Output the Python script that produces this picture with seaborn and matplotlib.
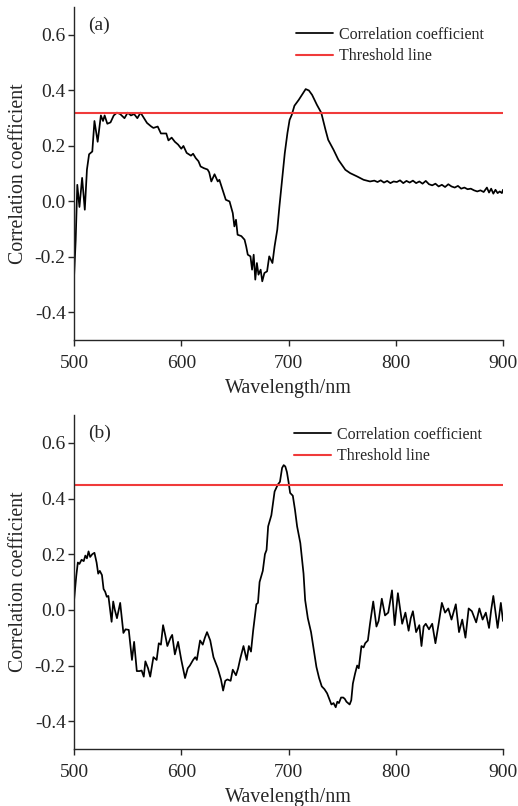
import matplotlib
matplotlib.use("Agg")
import matplotlib.pyplot as plt
import seaborn as sns
import pandas as pd

# ---------------- data ----------------
wl_a = [500, 501.5, 503, 505, 507.5, 510, 512, 514, 517, 519,
        522, 525, 527, 528.5, 531, 534, 537, 540, 543, 547,
        550, 553, 556, 559, 562, 566, 568, 572, 574, 578,
        581, 586, 588, 591, 594, 597, 600, 602, 605, 609, 611, 613.5, 616, 618,
        621, 624.5, 626, 628, 631, 634, 635.5, 638.5, 641.5, 645,
        648, 649.5, 651, 652.5, 656, 659, 660.5, 662, 664.5, 666,
        667.5, 669, 670.5, 672, 674, 675.5, 677.5, 680, 682, 685,
        687, 689.5, 691.5, 694, 696.5, 699, 701, 703, 705.5, 709.5,
        712.5, 716, 719, 722, 726.5, 730.5, 734.5, 737, 742, 746.5,
        753, 757.5, 764, 770, 776, 780, 783, 786, 789, 792,
        795, 798, 801, 804, 807, 810, 813, 816, 819, 822,
        825, 828, 831, 834, 837, 840, 843, 846, 849, 852,
        855, 858, 861, 864, 867, 870, 873, 876, 879, 882,
        885, 887, 889, 891, 893, 895, 897, 899, 900]
r_a = [-0.27, -0.14, 0.06, -0.02, 0.085, -0.03, 0.115, 0.17, 0.18, 0.29,
       0.215, 0.31, 0.29, 0.31, 0.28, 0.285, 0.31, 0.32, 0.315, 0.30,
       0.32, 0.31, 0.315, 0.30, 0.32, 0.295, 0.283, 0.27, 0.265, 0.27,
       0.245, 0.245, 0.22, 0.23, 0.215, 0.205, 0.19, 0.20, 0.175, 0.165, 0.172, 0.156, 0.145, 0.126,
       0.12, 0.115, 0.105, 0.072, 0.098, 0.072, 0.078, 0.042, 0.006, 0.0,
       -0.042, -0.09, -0.066, -0.12, -0.125, -0.138, -0.162, -0.192, -0.198, -0.246,
       -0.192, -0.282, -0.222, -0.264, -0.246, -0.288, -0.258, -0.252, -0.198, -0.222,
       -0.162, -0.102, -0.018, 0.078, 0.174, 0.247, 0.294, 0.312, 0.345, 0.366,
       0.384, 0.405, 0.40, 0.384, 0.348, 0.32, 0.258, 0.222, 0.186, 0.15,
       0.114, 0.102, 0.09, 0.078, 0.072, 0.075, 0.07, 0.076, 0.068, 0.074,
       0.066, 0.072, 0.07, 0.076, 0.066, 0.074, 0.068, 0.075, 0.066, 0.072,
       0.064, 0.074, 0.062, 0.058, 0.064, 0.054, 0.06, 0.052, 0.062, 0.054,
       0.05, 0.056, 0.046, 0.05, 0.044, 0.046, 0.04, 0.036, 0.04, 0.034,
       0.05, 0.032, 0.046, 0.028, 0.042, 0.03, 0.036, 0.03, 0.042]

wl_b = [500, 502, 503.5, 505, 507, 509, 510.5, 512, 513.5, 515,
        517, 519, 521, 522.5, 524, 526, 527.5, 529, 530.5, 532,
        535, 536.5, 538, 540, 543, 546, 548, 551, 554, 556,
        558.5, 561, 563, 565, 566.5, 569, 571, 574, 577, 579,
        581, 583, 585, 587, 590, 591.5, 594, 597, 600, 603.5,
        606, 608, 611, 613, 614.5, 617.5, 620, 622, 624, 627,
        630, 634, 637, 639, 641, 643, 646, 648, 651, 653,
        655, 658, 661, 663, 665, 667, 670, 671.5, 673, 676,
        678, 679.5, 681, 684, 687, 690, 692, 694, 695.5, 697,
        698.5, 700, 701.5, 704, 706, 708, 711, 714, 715.5, 718,
        721, 723, 726, 728.5, 731, 733.5, 736, 738, 740, 742,
        744, 745.5, 747, 749, 751, 752.5, 754, 757, 758.5, 760,
        762, 764, 765.5, 768, 770, 771.5, 774, 776, 779, 782,
        784, 787, 790, 793, 796.5, 799, 802, 806, 809, 812,
        814, 816, 819, 822, 824, 826, 828, 831, 834, 837,
        840, 843, 846, 849, 852, 856, 859, 862, 865, 868,
        871, 875, 878, 881, 884, 887, 889, 891, 895, 898,
        900]
r_b = [0.035, 0.12, 0.17, 0.165, 0.18, 0.175, 0.195, 0.185, 0.21, 0.19,
       0.20, 0.205, 0.17, 0.13, 0.14, 0.125, 0.075, 0.065, 0.047, 0.05,
       -0.043, 0.03, 0.0, -0.03, 0.025, -0.083, -0.07, -0.072, -0.18, -0.115,
       -0.22, -0.22, -0.218, -0.24, -0.185, -0.21, -0.24, -0.17, -0.18, -0.12,
       -0.125, -0.055, -0.09, -0.13, -0.10, -0.09, -0.16, -0.115, -0.18, -0.245,
       -0.21, -0.20, -0.18, -0.17, -0.18, -0.11, -0.125, -0.10, -0.08, -0.11,
       -0.17, -0.21, -0.25, -0.29, -0.255, -0.25, -0.255, -0.215, -0.235, -0.21,
       -0.175, -0.13, -0.18, -0.13, -0.15, -0.075, 0.02, 0.025, 0.10, 0.14,
       0.20, 0.215, 0.30, 0.34, 0.425, 0.45, 0.46, 0.51, 0.52, 0.515,
       0.495, 0.46, 0.42, 0.41, 0.36, 0.30, 0.24, 0.13, 0.035, -0.03,
       -0.08, -0.13, -0.205, -0.245, -0.275, -0.285, -0.30, -0.32, -0.34, -0.335,
       -0.35, -0.33, -0.335, -0.315, -0.315, -0.32, -0.33, -0.34, -0.325, -0.265,
       -0.23, -0.20, -0.21, -0.13, -0.135, -0.12, -0.11, -0.05, 0.03, -0.06,
       -0.04, 0.04, -0.02, -0.01, 0.07, -0.055, 0.06, -0.05, -0.01, -0.075,
       -0.03, -0.005, -0.08, -0.055, -0.13, -0.06, -0.05, -0.07, -0.05, -0.12,
       -0.05, 0.025, -0.01, 0.005, -0.035, 0.02, -0.08, -0.035, -0.10, 0.005,
       -0.005, -0.045, 0.005, -0.035, -0.01, -0.065, 0.0, 0.05, -0.065, 0.025,
       -0.04]

threshold_a = 0.32
threshold_b = 0.45
panel_labels = ["(a)", "(b)"]
x_ticks = [500, 600, 700, 800, 900]
y_ticks = [-0.4, -0.2, 0.0, 0.2, 0.4, 0.6]

assert len(wl_a) == len(r_a)
assert len(wl_b) == len(r_b)

# ---------------- style ----------------
sns.set_style("ticks")
plt.rcParams["font.family"] = ["Liberation Serif", "DejaVu Serif"]
plt.rcParams["axes.linewidth"] = 1.0

fig = plt.figure(figsize=(5.18, 8.06), dpi=100)
fig.patch.set_facecolor("white")
ax_a = fig.add_axes([0.143, 0.578, 0.828, 0.413])
ax_b = fig.add_axes([0.143, 0.0707, 0.828, 0.4144])

panels = [
    (ax_a, wl_a, r_a, threshold_a, panel_labels[0], (0.518, 0.941)),
    (ax_b, wl_b, r_b, threshold_b, panel_labels[1], (0.513, 0.964)),
]

for ax, wl, r, thr, lab, legpos in panels:
    df = pd.DataFrame({"Wavelength": wl, "r": r})
    sns.lineplot(data=df, x="Wavelength", y="r", ax=ax, color="black",
                 lw=1.25, estimator=None, sort=False,
                 label="Correlation coefficient")
    ax.axhline(thr, color="#f03a3a", lw=1.5, label="Threshold line")
    ax.set_xlim(500, 900)
    ax.set_ylim(-0.5, 0.7)
    ax.set_xticks(x_ticks)
    ax.set_yticks(y_ticks)
    ax.set_yticklabels([f"{v:.1f}" for v in y_ticks])
    ax.tick_params(axis="both", labelsize=14, length=4, width=1.0,
                   direction="out")
    ax.tick_params(axis="x", pad=7)
    ax.tick_params(axis="y", pad=2)
    ax.set_xlabel("Wavelength/nm", fontsize=14.5, labelpad=5)
    ax.set_ylabel("Correlation coefficient", fontsize=14.3, labelpad=5)
    sns.despine(ax=ax)
    ax.text(0.033, 0.946, lab, transform=ax.transAxes, fontsize=14,
            va="center", ha="left")
    ax.legend(loc="upper left", bbox_to_anchor=legpos, frameon=False,
              fontsize=11.5, handlelength=2.3, handletextpad=0.4,
              labelspacing=0.33, borderpad=0, borderaxespad=0)

fig.savefig("out.png", dpi=100, facecolor="white")
